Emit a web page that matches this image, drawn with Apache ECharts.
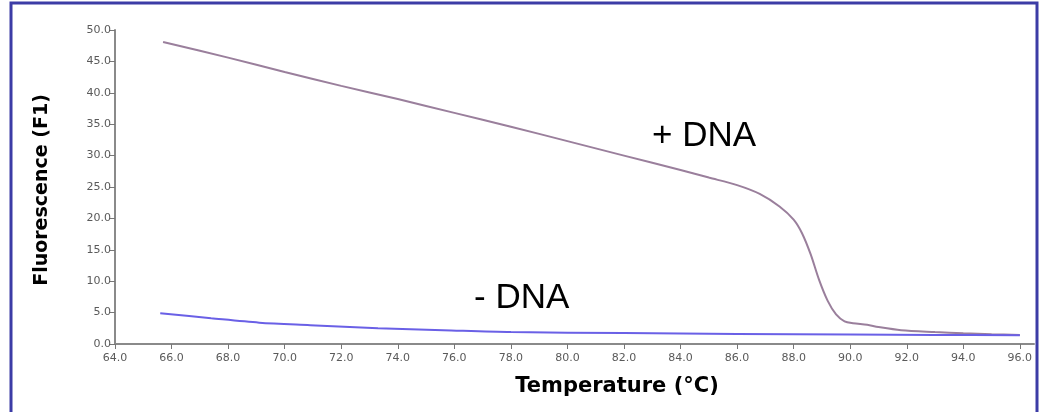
<!DOCTYPE html>
<html>
<head>
<meta charset="utf-8">
<script src="https://cdn.jsdelivr.net/npm/echarts@6/dist/echarts.min.js"></script>
<style>
html,body{margin:0;padding:0;background:#fff;}
#c{width:1041px;height:412px;}
</style>
</head>
<body>
<div id="c"></div>
<script>
// + DNA melting curve
const plusT = [65.7, 68, 70, 72, 74, 76, 78, 80, 82, 84, 85, 86, 86.8, 87.5, 88.0, 88.3, 88.6, 88.9, 89.2, 89.5, 89.8, 90.1, 90.6, 91.0, 91.8, 93, 94, 95, 96];
const plusV = [48.1, 45.6, 43.3, 41.1, 39.0, 36.8, 34.6, 32.3, 30.0, 27.7, 26.5, 25.3, 23.9, 21.9, 19.8, 17.6, 14.3, 10.2, 6.9, 4.7, 3.6, 3.3, 3.05, 2.7, 2.2, 1.9, 1.7, 1.55, 1.45];
// - DNA curve
const minusT = [65.6, 67.4, 69.1, 70.9, 73.3, 75.6, 78, 82, 86, 90, 93, 96];
const minusV = [4.9, 4.1, 3.4, 3.0, 2.5, 2.2, 1.9, 1.75, 1.6, 1.5, 1.45, 1.4];
// tick labels
const xTicks = [64, 66, 68, 70, 72, 74, 76, 78, 80, 82, 84, 86, 88, 90, 92, 94, 96];
const yTicks = [0, 5, 10, 15, 20, 25, 30, 35, 40, 45, 50];
const labels = {plus: '+ DNA', minus: '- DNA', xTitle: 'Temperature (°C)', yTitle: 'Fluorescence (F1)'};

const zip = (a, b) => a.map((v, i) => [v, b[i]]);
const chart = echarts.init(document.getElementById('c'), null, {renderer: 'canvas'});
chart.setOption({
  animation: false,
  backgroundColor: '#ffffff',
  grid: {left: 115, right: 7, top: 30, bottom: 68},
  xAxis: {
    type: 'value', min: 64, max: 96.5,
    splitLine: {show: false},
    axisLine: {show: true, lineStyle: {color: '#8a8a8a', width: 2}},
    axisTick: {show: true, length: 5, customValues: xTicks, lineStyle: {color: '#777', width: 1}},
    axisLabel: {customValues: xTicks, formatter: v => v.toFixed(1), color: '#5a5a5a', fontSize: 11, fontFamily: 'DejaVu Sans', margin: 9}
  },
  yAxis: {
    type: 'value', min: 0, max: 50,
    splitLine: {show: false},
    axisLine: {show: true, lineStyle: {color: '#8a8a8a', width: 2}},
    axisTick: {show: true, length: 6, customValues: yTicks, lineStyle: {color: '#777', width: 1}},
    axisLabel: {customValues: yTicks, formatter: v => v.toFixed(1), color: '#5a5a5a', fontSize: 11, fontFamily: 'DejaVu Sans', margin: 4}
  },
  series: [
    {type: 'line', name: labels.plus, data: zip(plusT, plusV), showSymbol: false, smooth: 0.3,
     lineStyle: {color: '#9a7f9c', width: 2}},
    {type: 'line', name: labels.minus, data: zip(minusT, minusV), showSymbol: false, smooth: 0.3,
     lineStyle: {color: '#6a60e6', width: 2}}
  ],
  graphic: [
    {type: 'rect', shape: {x: 11, y: 3, width: 1026, height: 430}, style: {fill: 'none', stroke: '#3c3ca6', lineWidth: 3}, silent: true},
    {type: 'text', left: 652, top: 119, style: {text: labels.plus, font: '35px "Liberation Sans", Arial, sans-serif', fill: '#000'}},
    {type: 'text', left: 474, top: 281, style: {text: labels.minus, font: '35px "Liberation Sans", Arial, sans-serif', fill: '#000'}},
    {type: 'text', x: 617, y: 387, style: {text: labels.xTitle, font: 'bold 21px "DejaVu Sans"', fill: '#000', align: 'center', verticalAlign: 'middle'}},
    {type: 'text', x: 42, y: 190, rotation: Math.PI / 2, style: {text: labels.yTitle, font: 'bold 19px "DejaVu Sans"', fill: '#000', align: 'center', verticalAlign: 'middle'}}
  ]
});
</script>
</body>
</html>
